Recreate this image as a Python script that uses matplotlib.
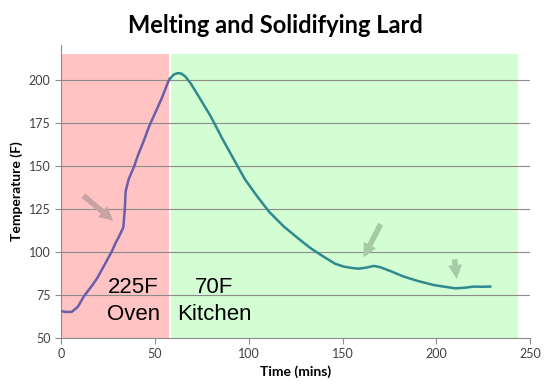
import numpy as np
import matplotlib.pyplot as plt

# Time (mins) and temperature (F)
oven_time = [0, 2, 5.7, 9, 12, 16, 19.2, 22, 24.6, 27, 29, 31, 33.2, 34, 34.4, 36, 38.9, 41, 44.3, 47, 50.5, 54, 56.8, 58]
oven_temp = [65.5, 65, 65, 68, 73.8, 79.5, 84.5, 90, 95.2, 100, 104.9, 109, 114.2, 125, 134.9, 142, 149.4, 156, 165, 173, 181.4, 190, 197.9, 200.5]

kitchen_time = [58, 60, 62, 64, 66, 69, 74, 79.8, 86, 92.2, 98, 104.6, 111, 118.8, 126, 133, 140, 146, 150.7, 155, 158.7, 162, 166.7, 170, 176, 182.6, 190, 198.6, 205, 210, 215, 219.8, 224, 228.7]
kitchen_temp = [200.5, 202.8, 203.7, 203.5, 202, 197.9, 189, 178.5, 165.5, 153.3, 142, 132, 123, 114.5, 108, 102, 97, 93, 91.3, 90.5, 90.1, 90.6, 91.7, 91, 88.5, 85.5, 83, 80.6, 79.5, 78.7, 79, 79.7, 79.6, 79.7]

yticks = [50, 75, 100, 125, 150, 175, 200]
xticks = [0, 50, 100, 150, 200, 250]

fig = plt.figure(figsize=(5.5, 3.92), dpi=100)
ax = fig.add_axes([0.111, 0.1385, 0.853, 0.7465])

# heating / cooling zones
ax.fill_between([0, 57.5], 50, 215, color='#ffc3c3', lw=0, zorder=0)
ax.fill_between([58.5, 243.5], 50, 215, color='#d3fdd3', lw=0, zorder=0)

for y in yticks[1:]:
    ax.axhline(y, color='#8c8c8c', lw=0.8, zorder=1)

ax.plot(oven_time, oven_temp, color='#6a5ea8', lw=1.8, zorder=3)
ax.plot(kitchen_time, kitchen_temp, color='#2f8a8e', lw=1.8, zorder=3)

# arrows pointing at the plateaus
arrow = 'simple,head_length=1.0,head_width=1.0,tail_width=0.4'
ax.annotate('', xy=(29, 117), xytext=(10.8, 133.5),
            arrowprops=dict(arrowstyle=arrow, color='#c9a2a5', lw=0, mutation_scale=10), zorder=2)
ax.annotate('', xy=(160.5, 95.2), xytext=(171, 117.4),
            arrowprops=dict(arrowstyle=arrow, color='#a6caa6', lw=0, mutation_scale=10), zorder=2)
ax.annotate('', xy=(211, 82.6), xytext=(209.5, 97.1),
            arrowprops=dict(arrowstyle=arrow, color='#a6caa6', lw=0, mutation_scale=10), zorder=2)

ax.text(38.7, 71.3, '225F\nOven', ha='center', va='center', fontsize=16,
        family='Liberation Sans', linespacing=1.35, zorder=4)
ax.text(81.5, 71.3, '70F\nKitchen', ha='center', va='center', fontsize=16,
        family='Liberation Sans', linespacing=1.35, zorder=4)

ax.set_xlim(0, 250)
ax.set_ylim(50, 220)
ax.set_xticks(xticks)
ax.set_yticks(yticks)
ax.tick_params(direction='out', length=4, color='#8c8c8c', labelsize=9,
               labelcolor='#404040')
for lab in ax.get_xticklabels() + ax.get_yticklabels():
    lab.set_family('Lato')
for s in ['top', 'right']:
    ax.spines[s].set_visible(False)
for s in ['left', 'bottom']:
    ax.spines[s].set_color('#8c8c8c')

ax.set_xlabel('Time (mins)', fontsize=10, fontweight='bold', family='Lato')
ax.set_ylabel('Temperature (F)', fontsize=10, fontweight='bold', family='Lato')
fig.text(0.5, 0.935, 'Melting and Solidifying Lard', ha='center', va='center',
         fontsize=17, fontweight='bold', family='Lato')

fig.savefig('out.png', dpi=100)
